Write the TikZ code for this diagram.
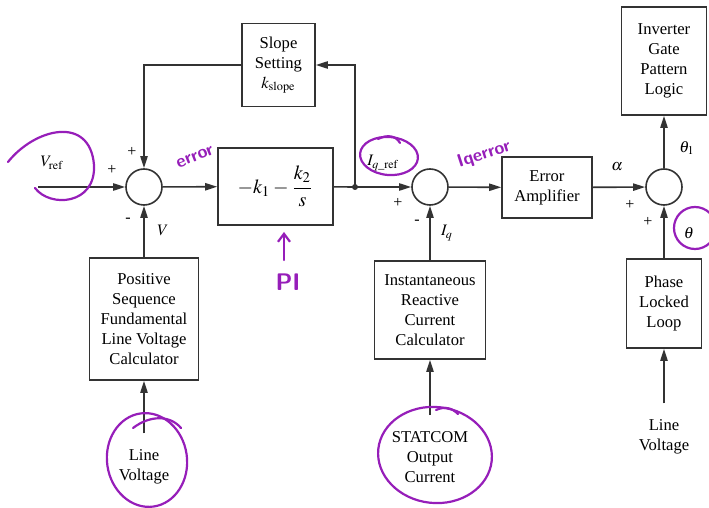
\documentclass[tikz,border=0pt]{standalone}
\usepackage{amsmath}
\usepackage{mathptmx}
\usepackage{fontspec}
\setmainfont{Liberation Serif}
\usepackage{tikz}
\usetikzlibrary{arrows.meta}
\definecolor{penpurple}{RGB}{150,30,185}
\tikzset{
  scbox/.style={draw=black!80, line width=0.8pt, fill=white, align=center, inner sep=1pt, font=\fontsize{8.3}{10}\selectfont},
  scsum/.style={circle, draw=black!80, line width=0.8pt, minimum size=18pt, inner sep=0pt},
  scline/.style={line width=0.8pt, draw=black!80},
  scsig/.style={line width=0.8pt, draw=black!80, -{Triangle[length=6pt,width=3.6pt]}},
  scsrc/.style={scsig, shorten <=8pt},
  sctext/.style={align=center, font=\fontsize{8.3}{10}\selectfont, inner sep=0pt},
  sclabel/.style={font=\fontsize{8}{10}\selectfont, inner sep=0pt},
  scpen/.style={line width=1.1pt, draw=penpurple, line cap=round, line join=round},
  scpentext/.style={text=penpurple, font=\sffamily\bfseries\fontsize{9}{10}\selectfont, inner sep=0pt},
}
\begin{document}
\begin{tikzpicture}[x=0.5pt,y=-0.5pt]
\useasboundingbox (0,0) rectangle (709,508);
\node[scsum] (sumV) at (144,187) {};
\node[scsum] (sumI) at (430,187) {};
\node[scsum] (sumT) at (664,187) {};
\node[scbox, minimum width=36.5pt, minimum height=41.5pt] (slope) at (278.5,65) {Slope\\Setting\\$k_{\mathrm{slope}}$};
\node[scbox, minimum width=57.5pt, minimum height=38.5pt, font=\fontsize{10}{12}\selectfont] (pi) at (275.5,186.5) {$-k_1-\dfrac{k_2}{s}$};
\node[scbox, minimum width=45pt, minimum height=30.5pt] (err) at (547,187.5) {Error\\Amplifier};
\node[scbox, minimum width=42.5pt, minimum height=54pt] (inv) at (664,61) {Inverter\\Gate\\Pattern\\Logic};
\node[scbox, minimum width=54.5pt, minimum height=61pt] (pos) at (144,319) {Positive\\Sequence\\Fundamental\\Line Voltage\\Calculator};
\node[scbox, minimum width=55.5pt, minimum height=49pt] (inst) at (430,310) {Instantaneous\\Reactive\\Current\\Calculator};
\node[scbox, minimum width=37.5pt, minimum height=44.5pt] (pll) at (664,303.5) {Phase\\Locked\\Loop};
\node[sctext] (lineA) at (144,467) {Line\\Voltage};
\node[sctext] (statcom) at (430,457) {STATCOM\\Output\\Current};
\node[sctext] (lineB) at (664,437) {Line\\Voltage};
\coordinate (vin) at (38,187);
\coordinate (tap) at (355,187);
\draw[scsig] (vin) -- (sumV);
\draw[scsig] (sumV) -- (pi);
\draw[scline] (pi) -- (tap);
\draw[scsig] (tap) -- (sumI);
\draw[scsig] (tap) |- (slope);
\draw[scsig] (slope) -| (sumV);
\draw[scsig] (pos) -- (sumV);
\draw[scsrc] (lineA) -- (pos);
\draw[scsig] (sumI) -- (err);
\draw[scsig] (inst) -- (sumI);
\draw[scsrc] (statcom) -- (inst);
\draw[scsig] (err) -- (sumT);
\draw[scsig] (sumT) -- (inv);
\draw[scsig] (pll) -- (sumT);
\draw[scsrc] (lineB) -- (pll);
\fill[black!80] (tap) circle (1.5pt);
\node[sclabel] (vref) at (52,163) {$V_{\mathrm{ref}}$};
\node[sclabel] (plusVa) at (112,170) {+};
\node[sclabel] (plusVb) at (132,152) {+};
\node[sclabel] (minusV) at (128,220) {-};
\node[sclabel] (vmeas) at (163,230) {$V$};
\node[sclabel] (iqref) at (383,163) {$I_{q\_\mathrm{ref}}$};
\node[sclabel] (plusI) at (398,203) {+};
\node[sclabel] (minusI) at (417,222) {-};
\node[sclabel] (iq) at (447,233) {$I_q$};
\node[sclabel] (alpha) at (617,167) {$\alpha$};
\node[sclabel] (plusTa) at (630,205) {+};
\node[sclabel] (plusTb) at (648,222) {+};
\node[sclabel] (theta1) at (687,148) {$\theta_1$};
\node[sclabel] (theta) at (689,233) {$\theta$};
\draw[scpen] (8,162) .. controls (35,128) and (90,115) .. (94,165) .. controls (96,205) and (50,208) .. (35,188);
\node[scpentext, rotate=22] (errnote) at (195,157) {error};
\draw[scpen, rotate around={-5:(389,156)}] (389,156) ellipse (29 and 19);
\draw[scpen] (378,139) .. controls (388,134) and (396,136) .. (400,143);
\node[scpentext, rotate=18] (iqnote) at (484,155) {Iqerror};
\draw[scpen] (695,228) ellipse (21 and 21);
\draw[scpen, -{Straight Barb[length=4pt,width=6pt]}] (284,260) -- (284,232);
\node[scpentext, font=\sffamily\bfseries\fontsize{12}{12}\selectfont] (pinote) at (288,282) {PI};
\draw[scpen, rotate around={8:(147,460)}] (147,460) ellipse (40 and 47);
\draw[scpen] (133,428) .. controls (150,415) and (170,415) .. (181,428);
\draw[scpen, rotate around={-6:(435,455)}] (435,455) ellipse (57 and 48);
\draw[scpen] (436,410) .. controls (445,406) and (452,408) .. (458,414);
\end{tikzpicture}
\end{document}
